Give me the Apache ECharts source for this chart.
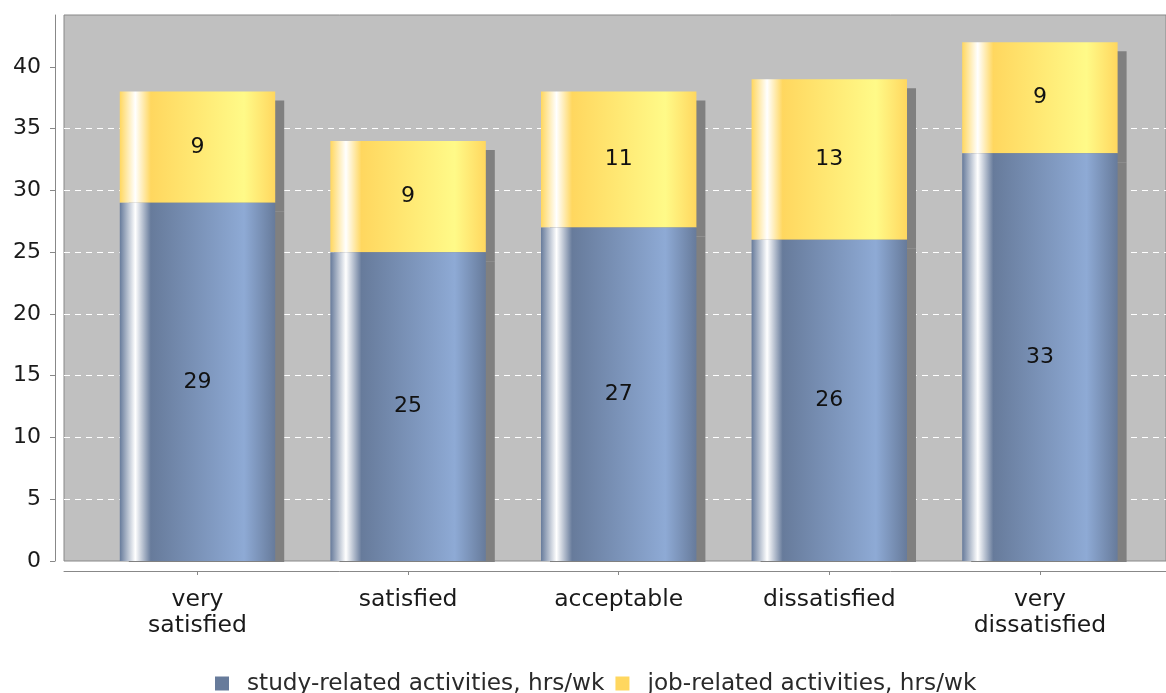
<!DOCTYPE html>
<html>
<head>
<meta charset="utf-8">
<script src="https://cdn.jsdelivr.net/npm/echarts@6/dist/echarts.min.js"></script>
<style>
html,body{margin:0;padding:0;background:#fff;}
#chart{width:1166px;height:693px;}
</style>
</head>
<body>
<div id="chart"></div>
<script>
const categories = ['very\nsatisfied', 'satisfied', 'acceptable', 'dissatisfied', 'very\ndissatisfied'];
const seriesNames = ['study-related activities, hrs/wk', 'job-related activities, hrs/wk'];
const studyHours = [29, 25, 27, 26, 33];
const jobHours = [9, 9, 11, 13, 9];
const yTicks = [0, 5, 10, 15, 20, 25, 30, 35, 40];

const FONT = 'DejaVu Sans';
function barGrad(c0, c1) {
  return new echarts.graphic.LinearGradient(0, 0, 1, 0, [
    {offset: 0, color: c0},
    {offset: 0.1, color: '#ffffff'},
    {offset: 0.2, color: c0},
    {offset: 0.8, color: c1},
    {offset: 1, color: c0}
  ]);
}
const blueC0 = '#677b9b', blueC1 = '#8eaad5';
const yelC0 = '#ffd75f', yelC1 = '#fffa88';

const chart = echarts.init(document.getElementById('chart'), null, {renderer: 'canvas'});
const option = {
  animation: false,
  backgroundColor: '#ffffff',
  textStyle: {fontFamily: FONT},
  grid: [
    {left: 64, width: 1104, top: 15, height: 546, show: true, backgroundColor: '#c0c0c0', borderColor: '#888888', borderWidth: 1},
    {left: 92.2, width: 1053, top: 15, height: 546}
  ],
  xAxis: [
    {gridIndex: 0, type: 'value', min: 0, max: 1, offset: 10, position: 'bottom',
     axisLine: {show: true, onZero: false, lineStyle: {color: '#888888', width: 1}},
     axisTick: {show: false}, axisLabel: {show: false}, splitLine: {show: false}},
    {gridIndex: 1, type: 'category', data: categories, offset: 10, position: 'bottom',
     axisLine: {show: false, onZero: false},
     axisTick: {show: true, alignWithLabel: true, length: 4, lineStyle: {color: '#888888'}},
     axisLabel: {fontFamily: FONT, fontSize: 23.5, color: '#1a1a1a', lineHeight: 26, margin: 16}}
  ],
  yAxis: [
    {gridIndex: 0, type: 'value', min: 0, max: 44.2, interval: 5, offset: 9, position: 'left',
     axisLine: {show: true, onZero: false, lineStyle: {color: '#888888', width: 1}},
     axisTick: {show: true, length: 5, lineStyle: {color: '#888888'}, customValues: yTicks},
     axisLabel: {fontFamily: FONT, fontSize: 22, color: '#1a1a1a', margin: 14, customValues: yTicks},
     splitLine: {show: true, showMinLine: false, showMaxLine: false, lineStyle: {color: '#ffffff', type: [6, 5], width: 1}}},
    {gridIndex: 1, type: 'value', min: 0, max: 44.2, interval: 5, show: false, splitLine: {show: false},
     axisLine: {onZero: false}}
  ],
  legend: {
    top: 667, left: 210,
    itemWidth: 14, itemHeight: 14, itemGap: 11,
    icon: 'rect',
    textStyle: {fontFamily: FONT, fontSize: 23.2, color: '#2a2a2a', padding: [0, 0, 0, 13]},
    data: seriesNames
  },
  graphic: [
    {type: 'rect', z: 100, silent: true, shape: {x: 64, y: 562, width: 1104, height: 8}, style: {fill: '#ffffff'}}
  ],
  series: [
    {
      name: seriesNames[0], type: 'bar', stack: 'total', xAxisIndex: 1, yAxisIndex: 1,
      data: studyHours, barWidth: '73.8%', z: 3,
      itemStyle: {color: barGrad(blueC0, blueC1), shadowColor: '#808080', shadowBlur: 0, shadowOffsetX: 9, shadowOffsetY: 9},
      label: {show: true, position: 'inside', fontFamily: FONT, fontSize: 22, color: '#111'}
    },
    {
      name: seriesNames[1], type: 'bar', stack: 'total', xAxisIndex: 1, yAxisIndex: 1,
      data: jobHours, barWidth: '73.8%', z: 2,
      itemStyle: {color: barGrad(yelC0, yelC1), shadowColor: '#808080', shadowBlur: 0, shadowOffsetX: 9, shadowOffsetY: 9},
      label: {show: true, position: 'inside', fontFamily: FONT, fontSize: 22, color: '#111'}
    }
  ]
};
option.legend.data = [
  {name: seriesNames[0], itemStyle: {color: blueC0}},
  {name: seriesNames[1], itemStyle: {color: yelC0}}
];
chart.setOption(option);
</script>
</body>
</html>
